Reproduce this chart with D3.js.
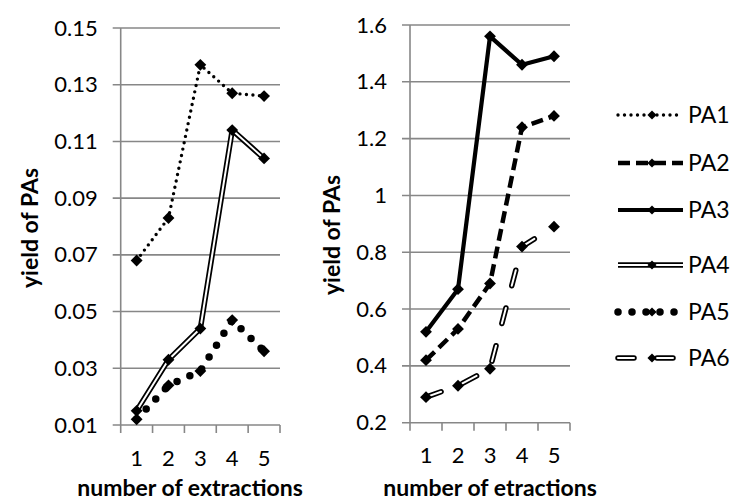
<!DOCTYPE html>
<html>
<head>
<meta charset="utf-8">
<script src="https://cdn.jsdelivr.net/npm/d3@7"></script>
<style>
  body { margin: 0; background: #fff; }
  text { font-family: Lato, "Open Sans", sans-serif; fill: #000; }
</style>
</head>
<body>
<svg id="chart" width="736" height="503"></svg>
<script>
// data
const extractions = [1, 2, 3, 4, 5];
const leftTickLabels = ["0.01", "0.03", "0.05", "0.07", "0.09", "0.11", "0.13", "0.15"];
const rightTickLabels = ["0.2", "0.4", "0.6", "0.8", "1", "1.2", "1.4", "1.6"];
const seriesNames = ["PA1", "PA2", "PA3", "PA4", "PA5", "PA6"];

const pa1 = [0.068, 0.083, 0.137, 0.127, 0.126];
const pa4 = [0.015, 0.033, 0.044, 0.114, 0.104];
const pa5 = [0.012, 0.024, 0.029, 0.047, 0.036];

const pa2 = [0.42, 0.53, 0.69, 1.24, 1.28];
const pa3 = [0.52, 0.67, 1.56, 1.46, 1.49];
const pa6 = [0.29, 0.33, 0.39, 0.82, 0.89];

// line looks, one per series
const styles = {
  PA1: { width: 3.4, dash: "0 6.5", cap: "round" },
  PA2: { width: 4.5, dash: "12 6", cap: "butt" },
  PA3: { width: 4.2, dash: null, cap: "butt" },
  PA4: { width: 5.5, dash: null, cap: "butt", double: true },
  PA5: { width: 7.5, dash: "0 14", cap: "round" },
  PA6: { width: 5.5, dash: "16 23", cap: "round", double: true }
};

const panels = [
  {
    left: 120.7, right: 280, top: 28, bottom: 425,
    ticks: leftTickLabels, xTitle: "number of extractions", xTitleX: 190,
    yTitleX: 38, yTitleY: 228,
    series: [["PA1", pa1], ["PA4", pa4], ["PA5", pa5]]
  },
  {
    left: 410, right: 570, top: 25, bottom: 422.7,
    ticks: rightTickLabels, xTitle: "number of etractions", xTitleX: 490,
    yTitleX: 340, yTitleY: 235,
    series: [["PA2", pa2], ["PA3", pa3], ["PA6", pa6]]
  }
];

const legendRowY = [115, 163, 210, 265, 312, 358];
const gridColor = "#878787";

const svg = d3.select("#chart");
const diamond = d3.symbol(d3.symbolSquare, 70);
const smallDiamond = d3.symbol(d3.symbolSquare, 42);

function strokePath(g, d, st) {
  g.append("path")
    .attr("d", d)
    .attr("fill", "none")
    .attr("stroke", "#000")
    .attr("stroke-width", st.width)
    .attr("stroke-dasharray", st.dash)
    .attr("stroke-linecap", st.cap)
    .attr("stroke-linejoin", "round");
  if (st.double) {
    g.append("path")
      .attr("d", d)
      .attr("fill", "none")
      .attr("stroke", "#fff")
      .attr("stroke-width", 2)
      .attr("stroke-dasharray", st.dash)
      .attr("stroke-linecap", st.cap)
      .attr("stroke-linejoin", "round");
  }
}

panels.forEach(p => {
  const x = d3.scaleBand(extractions, [p.left, p.right]);
  const tickVals = p.ticks.map(Number);
  const y = d3.scaleLinear(d3.extent(tickVals), [p.bottom, p.top]);
  const g = svg.append("g");

  // horizontal grid, extending a little past the axis as the tick marks
  g.selectAll(".grid")
    .data(tickVals)
    .join("line")
    .attr("x1", p.left - 8).attr("x2", p.right)
    .attr("y1", d => y(d)).attr("y2", d => y(d))
    .attr("stroke", gridColor).attr("stroke-width", 1.6);

  // vertical axis line
  g.append("line")
    .attr("x1", p.left).attr("x2", p.left)
    .attr("y1", p.top).attr("y2", p.bottom)
    .attr("stroke", gridColor).attr("stroke-width", 1.6);

  // x tick marks on the band edges
  const edges = extractions.map(d => x(d)).concat([p.right]);
  g.selectAll(".xtick")
    .data(edges)
    .join("line")
    .attr("x1", d => d).attr("x2", d => d)
    .attr("y1", p.bottom).attr("y2", p.bottom + 8)
    .attr("stroke", gridColor).attr("stroke-width", 1.6);

  const yAxis = g.append("g")
    .attr("transform", `translate(${p.left},0)`)
    .call(d3.axisLeft(y).tickValues(tickVals).tickSize(0).tickPadding(23)
      .tickFormat((d, i) => p.ticks[i]));
  yAxis.select(".domain").remove();
  yAxis.selectAll("text").style("font-size", "22px").style("font-family", "Lato");

  const xAxis = g.append("g")
    .attr("transform", `translate(0,${p.bottom})`)
    .call(d3.axisBottom(x).tickSize(0).tickPadding(25));
  xAxis.select(".domain").remove();
  xAxis.selectAll("text").style("font-size", "22px").style("font-family", "Lato");

  g.append("text")
    .attr("x", p.xTitleX).attr("y", 496)
    .attr("text-anchor", "middle")
    .style("font-size", "23px").style("font-weight", "bold")
    .text(p.xTitle);

  g.append("text")
    .attr("transform", `translate(${p.yTitleX},${p.yTitleY}) rotate(-90)`)
    .attr("text-anchor", "middle")
    .style("font-size", "23px").style("font-weight", "bold")
    .text("yield of PAs");

  const line = d3.line()
    .x((d, i) => x(extractions[i]) + x.bandwidth() / 2)
    .y(d => y(d));

  p.series.forEach(([name, vals]) => {
    const sg = g.append("g");
    strokePath(sg, line(vals), styles[name]);
    sg.selectAll(".mk")
      .data(vals)
      .join("path")
      .attr("d", diamond)
      .attr("transform", (d, i) =>
        `translate(${x(extractions[i]) + x.bandwidth() / 2},${y(d)}) rotate(45)`)
      .attr("fill", "#000");
  });
});

// legend
const lx0 = 618, lx1 = 683, lmid = 652;
seriesNames.forEach((name, i) => {
  const ly = legendRowY[i];
  const lg = svg.append("g");
  strokePath(lg, d3.line()([[lx0, ly], [lx1, ly]]), styles[name]);
  lg.append("path")
    .attr("d", smallDiamond)
    .attr("transform", `translate(${lmid},${ly}) rotate(45)`)
    .attr("fill", "#000");
  lg.append("text")
    .attr("x", lx1 + 5).attr("y", ly)
    .attr("dy", "0.35em")
    .style("font-size", "23px")
    .text(name);
});
</script>
</body>
</html>
